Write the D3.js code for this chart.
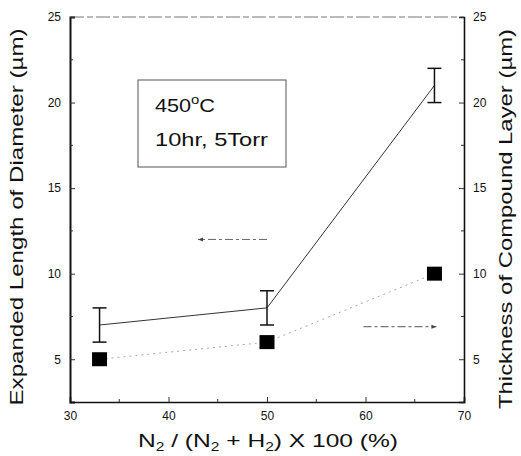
<!DOCTYPE html>
<html><head><meta charset="utf-8">
<script src="https://cdn.jsdelivr.net/npm/d3@7"></script>
<style>body{margin:0;background:#fff}svg{display:block}text{font-family:"Liberation Sans",Arial,sans-serif;fill:#111}</style>
</head><body>
<script>
const xValues = [33, 50, 67];
const lengthValues = [7, 8, 21];
const lengthErrLow = [6, 7, 20];
const lengthErrHigh = [8, 9, 22];
const thicknessValues = [5, 6, 10];
const xTicks = [30, 40, 50, 60, 70];
const yTicks = [5, 10, 15, 20, 25];

const W = 521, H = 456;
const m = {l: 70, r: 57, t: 17, b: 54};
const svg = d3.select("body").append("svg").attr("width", W).attr("height", H);
const x = d3.scaleLinear().domain([30, 70]).range([m.l, W - m.r]);
const yL = d3.scaleLinear().domain([2.5, 25]).range([H - m.b, m.t]);
const yR = d3.scaleLinear().domain([2.5, 25]).range([H - m.b, m.t]);

// top border
svg.append("line").attr("x1", x(30)).attr("x2", x(70)).attr("y1", yL(25)).attr("y2", yL(25))
  .attr("stroke", "#777").attr("stroke-width", 1).attr("stroke-dasharray", "14,3,6,3");

// axes
const ax = svg.append("g").attr("transform", `translate(0,${H - m.b})`)
  .call(d3.axisBottom(x).tickValues(xTicks).tickSize(-5).tickPadding(9).tickFormat(d3.format("d")));
const ay = svg.append("g").attr("transform", `translate(${m.l},0)`)
  .call(d3.axisLeft(yL).tickValues(yTicks).tickSize(-5).tickPadding(9).tickFormat(d3.format("d")));
const ayr = svg.append("g").attr("transform", `translate(${W - m.r},0)`)
  .call(d3.axisRight(yR).tickValues(yTicks).tickSize(-5).tickPadding(9).tickFormat(d3.format("d")));
[ax, ay, ayr].forEach(g => {
  g.select(".domain").attr("stroke", "#111").attr("stroke-width", 1.6);
  g.selectAll(".tick line").attr("stroke", "#333");
  g.selectAll("text").attr("font-size", 12).attr("font-family", "Liberation Sans, Arial, sans-serif").attr("fill", "#222");
});
ay.select(".domain").attr("stroke-width", 2);
// minor ticks
const minorY = [7.5, 12.5, 17.5, 22.5];
svg.append("g").selectAll("line").data(minorY).join("line")
  .attr("x1", m.l).attr("x2", m.l + 3).attr("y1", d => yL(d)).attr("y2", d => yL(d)).attr("stroke", "#333");
svg.append("g").selectAll("line").data(minorY).join("line")
  .attr("x1", W - m.r).attr("x2", W - m.r - 3).attr("y1", d => yR(d)).attr("y2", d => yR(d)).attr("stroke", "#333");
svg.append("g").selectAll("line").data([35, 45, 55, 65]).join("line")
  .attr("x1", d => x(d)).attr("x2", d => x(d)).attr("y1", H - m.b).attr("y2", H - m.b - 3).attr("stroke", "#333");

// series 1: expanded length
const pts1 = xValues.map((v, i) => [x(v), yL(lengthValues[i])]);
svg.append("path").attr("d", d3.line()(pts1)).attr("fill", "none").attr("stroke", "#333").attr("stroke-width", 1);
const eb = svg.append("g");
xValues.forEach((v, i) => {
  const cx = x(v), cw = 7;
  eb.append("line").attr("x1", cx).attr("x2", cx).attr("y1", yL(lengthErrLow[i])).attr("y2", yL(lengthErrHigh[i])).attr("stroke", "#111").attr("stroke-width", 1.5);
  eb.append("line").attr("x1", cx - cw).attr("x2", cx + cw).attr("y1", yL(lengthErrLow[i])).attr("y2", yL(lengthErrLow[i])).attr("stroke", "#111").attr("stroke-width", 1.5);
  eb.append("line").attr("x1", cx - cw).attr("x2", cx + cw).attr("y1", yL(lengthErrHigh[i])).attr("y2", yL(lengthErrHigh[i])).attr("stroke", "#111").attr("stroke-width", 1.5);
});

// series 2: thickness
const pts2 = xValues.map((v, i) => [x(v), yR(thicknessValues[i])]);
svg.append("path").attr("d", d3.line()(pts2)).attr("fill", "none").attr("stroke", "#aaa").attr("stroke-width", 1).attr("stroke-dasharray", "2,4");
svg.append("g").selectAll("rect").data(xValues).join("rect")
  .attr("x", d => x(d) - 7.5).attr("y", (d, i) => yR(thicknessValues[i]) - 7)
  .attr("width", 15).attr("height", 14).attr("fill", "#000");

// arrows
const defs = svg.append("defs");
defs.append("marker").attr("id", "ah").attr("viewBox", "0 0 10 10").attr("refX", 10).attr("refY", 5)
  .attr("markerWidth", 8).attr("markerHeight", 5).attr("orient", "auto")
  .append("path").attr("d", "M0,1L10,5L0,9Z").attr("fill", "#444");
svg.append("line").attr("x1", x(50)).attr("x2", x(43)).attr("y1", yL(12)).attr("y2", yL(12))
  .attr("stroke", "#666").attr("stroke-width", 1).attr("stroke-dasharray", "8,3,3,3").attr("marker-end", "url(#ah)");
svg.append("line").attr("x1", x(59.8)).attr("x2", x(67.2)).attr("y1", yR(6.9)).attr("y2", yR(6.9))
  .attr("stroke", "#555").attr("stroke-width", 1).attr("stroke-dasharray", "8,3,3,3").attr("marker-end", "url(#ah)");

// annotation box
svg.append("rect").attr("x", 138).attr("y", 80).attr("width", 148).attr("height", 87)
  .attr("fill", "none").attr("stroke", "#555").attr("stroke-width", 1);
const t1 = svg.append("text").attr("x", 155).attr("y", 112).attr("font-size", 19)
  .attr("textLength", 60).attr("lengthAdjust", "spacingAndGlyphs");
t1.append("tspan").text("450");
t1.append("tspan").attr("dy", -8).attr("font-size", 13).text("o");
t1.append("tspan").attr("dy", 8).text("C");
svg.append("text").attr("x", 155).attr("y", 146).attr("font-size", 19)
  .attr("textLength", 113).attr("lengthAdjust", "spacingAndGlyphs").text("10hr, 5Torr");

// axis titles
const xl = svg.append("text").attr("x", 268).attr("y", 447).attr("text-anchor", "middle").attr("font-size", 19)
  .attr("textLength", 260).attr("lengthAdjust", "spacingAndGlyphs");
xl.append("tspan").text("N");
xl.append("tspan").attr("dy", 4).attr("font-size", 12).text("2");
xl.append("tspan").attr("dy", -4).text(" / (N");
xl.append("tspan").attr("dy", 4).attr("font-size", 12).text("2");
xl.append("tspan").attr("dy", -4).text(" + H");
xl.append("tspan").attr("dy", 4).attr("font-size", 12).text("2");
xl.append("tspan").attr("dy", -4).text(") X 100 (%)");

svg.append("text").attr("transform", "translate(23,217) rotate(-90)").attr("text-anchor", "middle")
  .attr("font-size", 19).attr("textLength", 377).attr("lengthAdjust", "spacingAndGlyphs")
  .text("Expanded Length of Diameter (\u00b5m)");
svg.append("text").attr("transform", "translate(512,219) rotate(-90)").attr("text-anchor", "middle")
  .attr("font-size", 19).attr("textLength", 380).attr("lengthAdjust", "spacingAndGlyphs")
  .text("Thickness of Compound Layer (\u00b5m)");
</script>
</body></html>
